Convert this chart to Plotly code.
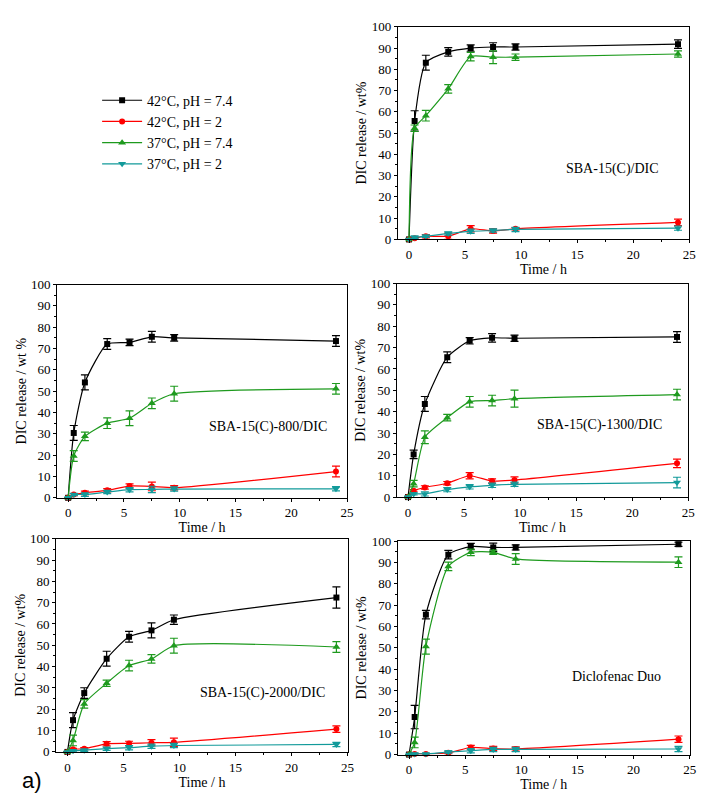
import plotly.graph_objects as go

time = [0, 0.5, 1.5, 3.5, 5.5, 7.5, 9.5, 24]

series_names = ["42°C, pH = 7.4", "42°C, pH = 2", "37°C, pH = 7.4", "37°C, pH = 2"]
series_colors = ["#000000", "#FF0000", "#1E9A1E", "#129A9A"]
series_symbols = ["square", "circle", "triangle-up", "triangle-down"]
series_sizes = [6, 6, 7, 7]

panel_labels = ["SBA-15(C)/DIC", "SBA-15(C)-800/DIC", "SBA-15(C)-1300/DIC",
                "SBA-15(C)-2000/DIC", "Diclofenac Duo"]

# SBA-15(C)/DIC
p1_black = [0, 55.7, 83.1, 88.2, 90.0, 90.5, 90.5, 91.8]
p1_black_err = [0, 4.8, 3.5, 2.0, 1.5, 2.0, 1.5, 2.0]
p1_red = [0, 0.6, 1.5, 1.5, 5.0, 4.0, 5.0, 8.0]
p1_red_err = [0, 0.5, 0.8, 1.5, 1.5, 1.0, 0.5, 1.5]
p1_green = [0, 52.3, 58.2, 70.8, 86.0, 85.7, 85.7, 87.2]
p1_green_err = [0, 1.5, 2.5, 2.0, 2.0, 3.0, 1.5, 1.5]
p1_teal = [0, 1.0, 1.5, 2.8, 3.8, 4.2, 4.7, 5.3]
p1_teal_err = [0, 0.5, 0.5, 0.8, 1.0, 0.8, 1.0, 1.0]

# SBA-15(C)-800/DIC
p2_black = [0, 30.4, 54.1, 72.1, 72.9, 75.5, 75.0, 73.5]
p2_black_err = [0, 3.5, 3.5, 2.5, 1.5, 2.5, 1.5, 2.5]
p2_red = [0, 1.5, 2.3, 3.5, 5.5, 5.3, 4.7, 12.3]
p2_red_err = [0, 0.5, 0.8, 0.8, 1.0, 2.0, 1.0, 2.5]
p2_green = [0, 19.6, 28.8, 35.0, 37.3, 44.3, 48.8, 51.1]
p2_green_err = [0, 2.5, 2.0, 2.5, 3.5, 2.5, 3.5, 2.5]
p2_teal = [0, 1.5, 1.5, 2.7, 3.8, 3.9, 4.1, 4.2]
p2_teal_err = [0, 0.5, 0.8, 0.8, 1.0, 1.5, 1.0, 1.0]

# SBA-15(C)-1300/DIC
p3_black = [0, 20.0, 43.6, 65.5, 73.2, 74.6, 74.4, 75.0]
p3_black_err = [0, 2.0, 3.5, 2.5, 1.5, 2.0, 1.5, 2.5]
p3_red = [0, 3.0, 4.5, 6.5, 10.0, 7.5, 8.0, 15.8]
p3_red_err = [0, 0.5, 0.8, 0.8, 1.5, 1.0, 1.5, 2.0]
p3_green = [0, 6.3, 28.0, 37.2, 44.6, 45.2, 46.1, 48.0]
p3_green_err = [0, 1.5, 3.0, 1.5, 2.5, 2.5, 4.0, 2.5]
p3_teal = [0, 1.5, 1.5, 3.5, 4.8, 5.5, 6.0, 6.8]
p3_teal_err = [0, 0.5, 1.0, 1.0, 1.0, 1.0, 1.0, 2.5]

# SBA-15(C)-2000/DIC
p4_black = [0, 14.9, 27.6, 43.7, 54.0, 57.0, 62.0, 72.4]
p4_black_err = [0, 3.5, 2.5, 3.5, 2.5, 3.5, 2.2, 5.0]
p4_red = [0, 1.2, 1.5, 3.8, 4.0, 4.3, 4.5, 10.7]
p4_red_err = [0, 0.5, 0.5, 1.0, 1.0, 1.5, 2.0, 1.5]
p4_green = [0, 5.4, 22.5, 32.2, 40.5, 43.6, 49.8, 49.2]
p4_green_err = [0, 2.5, 2.0, 1.5, 2.5, 2.0, 3.5, 2.5]
p4_teal = [0, 0.5, 0.8, 1.5, 2.0, 2.7, 3.0, 3.5]
p4_teal_err = [0, 0.5, 0.5, 0.8, 1.0, 1.0, 1.0, 1.0]

# Diclofenac Duo
p5_black = [0, 17.6, 65.6, 93.7, 97.5, 97.1, 97.1, 98.6]
p5_black_err = [0, 5.5, 2.0, 2.0, 1.5, 2.0, 1.2, 1.0]
p5_red = [0, 0.3, 0.3, 0.8, 3.3, 2.8, 2.6, 7.2]
p5_red_err = [0, 0.3, 0.3, 0.5, 1.0, 1.0, 1.0, 1.5]
p5_green = [0, 5.7, 50.6, 88.2, 94.8, 94.8, 91.7, 90.2]
p5_green_err = [0, 2.5, 3.5, 2.0, 1.5, 1.0, 2.5, 2.5]
p5_teal = [0, 0.3, 0.3, 1.2, 1.8, 2.4, 2.4, 2.6]
p5_teal_err = [0, 0.3, 0.3, 0.5, 1.0, 1.0, 1.0, 1.2]

panels = [
    [(p1_black, p1_black_err), (p1_red, p1_red_err), (p1_green, p1_green_err), (p1_teal, p1_teal_err)],
    [(p2_black, p2_black_err), (p2_red, p2_red_err), (p2_green, p2_green_err), (p2_teal, p2_teal_err)],
    [(p3_black, p3_black_err), (p3_red, p3_red_err), (p3_green, p3_green_err), (p3_teal, p3_teal_err)],
    [(p4_black, p4_black_err), (p4_red, p4_red_err), (p4_green, p4_green_err), (p4_teal, p4_teal_err)],
    [(p5_black, p5_black_err), (p5_red, p5_red_err), (p5_green, p5_green_err), (p5_teal, p5_teal_err)],
]
y_titles = ["DIC release / wt%", "DIC release / wt %", "DIC release / wt%",
            "DIC release / wt%", "DIC release / wt%"]
x_titles = ["Time / h", "Time / h", "Timc / h", "Time / h", "Time / h"]

# page has an 8px body margin; figure is sized to fill the rest of the window
OFF = 8
W, H = 717 - OFF, 808 - OFF
# plot-area pixel boxes in page coordinates (left, right, top, bottom)
boxes = [
    (401.7, 696.0, 20.0, 236.7),
    (57.5, 350.5, 282.7, 500.0),
    (400.7, 695.0, 281.7, 499.3),
    (56.7, 351.0, 541.7, 759.0),
    (401.7, 696.5, 544.3, 761.7),
]
label_pos = [(18.2, 33.0), (17.9, 33.0), (17.1, 33.8), (17.4, 27.6), (18.5, 36.8)]

FONT = "Liberation Serif"
fig = go.Figure()
layout = dict(
    width=W, height=H, margin=dict(l=0, r=0, t=0, b=0),
    paper_bgcolor="white", plot_bgcolor="white",
    font=dict(family=FONT, size=13, color="black"),
    showlegend=True,
    legend=dict(x=(98 - OFF) / W, y=1 - (79 - OFF) / H, xanchor="left", yanchor="top",
                font=dict(family=FONT, size=14, color="black"),
                bgcolor="rgba(0,0,0,0)", tracegroupgap=0, itemwidth=40),
)
annotations = []
for i, (data, box) in enumerate(zip(panels, boxes)):
    n = i + 1
    xs = "x" if n == 1 else f"x{n}"
    ys = "y" if n == 1 else f"y{n}"
    for j, (vals, errs) in enumerate(data):
        fig.add_trace(go.Scatter(
            x=time, y=vals, xaxis=xs, yaxis=ys,
            mode="lines+markers", name=series_names[j],
            legendgroup=series_names[j], showlegend=(n == 1),
            line=dict(color=series_colors[j], width=1.2, shape="spline", smoothing=0.6),
            marker=dict(symbol=series_symbols[j], color=series_colors[j], size=series_sizes[j]),
            error_y=dict(type="data", array=errs, visible=True, color=series_colors[j],
                         thickness=1.2, width=4),
            cliponaxis=False,
        ))
    l, r, t, b = [v - OFF for v in box]
    common = dict(showline=True, mirror=True, linecolor="black", linewidth=1,
                  ticks="outside", ticklen=3, tickwidth=1, tickcolor="black",
                  showgrid=False, zeroline=False,
                  tickfont=dict(family=FONT, size=13, color="black"))
    layout["xaxis" if n == 1 else f"xaxis{n}"] = dict(
        domain=[l / W, r / W], anchor=ys, range=[-1, 25], dtick=5, tick0=0,
        minor=dict(ticks="outside", ticklen=2, dtick=2.5, tick0=0, tickcolor="black"),
        title=dict(text=x_titles[i], font=dict(family=FONT, size=14, weight="normal"), standoff=0),
        **common)
    layout["yaxis" if n == 1 else f"yaxis{n}"] = dict(
        domain=[1 - b / H, 1 - t / H], anchor=xs, range=[0, 100], dtick=10, tick0=0,
        minor=dict(ticks="outside", ticklen=2, dtick=5, tick0=0, tickcolor="black"),
        title=dict(text=y_titles[i], font=dict(family=FONT, size=14, weight="normal"), standoff=1),
        **common)
    lx, ly = label_pos[i]
    annotations.append(dict(x=lx, y=ly, xref=xs, yref=ys, text=panel_labels[i],
                            showarrow=False, font=dict(family=FONT, size=14, color="black")))

annotations.append(dict(x=(20 - OFF) / W, y=1 - (788 - OFF) / H, xref="paper", yref="paper",
                        text="a)", showarrow=False, xanchor="left", yanchor="middle",
                        font=dict(family="Liberation Sans", size=22, color="black")))
layout["annotations"] = annotations
fig.update_layout(**layout)
fig.write_html("out.html")
